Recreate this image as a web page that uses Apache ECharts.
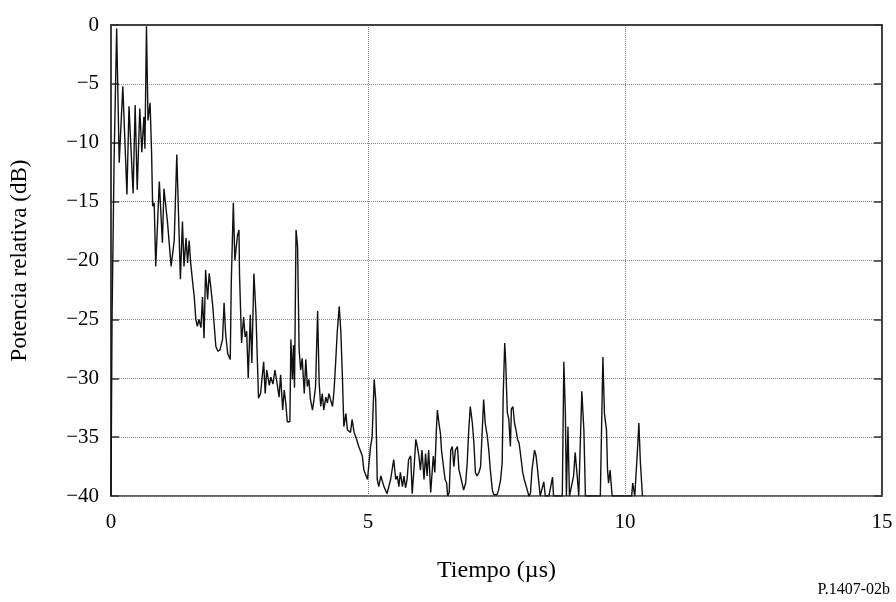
<!DOCTYPE html>
<html>
<head>
<meta charset="utf-8">
<script src="https://cdn.jsdelivr.net/npm/echarts@6/dist/echarts.min.js"></script>
<style>
html,body{margin:0;padding:0;background:#fff;}
#chart{width:896px;height:602px;}
</style>
</head>
<body>
<div id="chart"></div>
<script>
// Tiempo (µs)
var tiempo = [
0,0.02,0.06,0.11,0.16,0.23,0.31,0.35,0.43,0.47,0.51,0.56,0.60,0.64,0.66,0.69,0.72,0.76,0.79,0.81,0.84,0.87,
0.94,1.00,1.03,1.10,1.17,1.23,1.28,1.35,1.39,1.42,1.46,1.49,1.52,1.55,1.59,1.62,1.65,1.68,1.71,1.75,1.78,1.81,1.84,1.88,1.91,1.94,1.98,2.01,2.04,2.08,2.12,2.17,2.20,2.23,2.27,2.32,2.34,2.38,2.41,2.46,2.49,2.50,2.54,2.58,2.61,2.64,2.67,2.71,2.74,2.78,2.82,2.87,
2.91,2.97,3.00,3.03,3.08,3.11,3.15,3.19,3.24,3.27,3.30,3.34,3.37,3.40,3.43,3.48,3.50,3.53,3.55,3.57,3.60,3.63,3.66,3.69,3.72,3.76,3.79,3.82,3.85,3.88,3.92,3.95,3.98,4.02,4.05,4.08,4.11,4.14,4.18,4.21,4.24,4.27,4.31,4.34,4.37,4.40,4.44,4.47,4.50,4.53,4.57,4.60,4.66,4.69,4.73,4.78,4.82,4.89,4.92,4.99,5.02,5.05,5.08,5.12,5.15,5.18,5.21,5.25,5.31,5.37,5.44,5.50,5.54,5.57,5.60,5.63,5.67,5.70,5.73,5.76,5.79,5.83,5.86,5.89,5.93,5.96,5.99,
6.02,6.05,6.09,6.12,6.15,6.18,6.22,6.27,6.30,6.33,6.35,6.38,6.41,6.43,6.46,6.50,6.53,6.55,6.58,6.61,6.64,6.67,6.70,6.74,6.77,6.80,6.83,6.86,6.90,6.93,6.96,6.99,7.03,7.06,7.09,7.12,7.16,7.19,7.22,7.25,7.28,7.32,7.35,7.38,7.42,7.45,7.51,7.54,7.58,7.61,7.63,7.66,7.68,7.71,7.74,7.77,7.79,7.82,7.85,7.88,7.91,7.94,7.98,8.01,8.04,8.08,8.13,8.16,8.19,8.24,8.27,8.30,8.35,8.42,8.45,8.52,8.59,8.61,8.78,8.81,8.84,8.86,8.89,8.92,9.00,9.03,9.07,9.10,9.16,9.20,9.23,9.52,9.57,9.60,9.64,9.66,9.68,9.71,9.75,10.13,10.15,10.19,10.24,10.27,10.30,10.34
];
// Potencia relativa (dB)
var potencia = [
-40,-25,-11.5,-0.3,-11.7,-5.2,-14.4,-6.9,-14.3,-6.8,-14.0,-7.1,-10.8,-7.8,-10.5,-0.1,-8.1,-6.6,-10.9,-15.4,-15.1,-20.5,
-13.3,-18.5,-13.9,-16.8,-20.5,-18.3,-11.0,-21.6,-16.7,-20.5,-18.1,-20.2,-18.3,-20.2,-21.9,-23.1,-25.0,-25.6,-25.0,-25.7,-23.1,-26.6,-20.8,-23.3,-21.1,-22.2,-23.9,-25.6,-27.3,-27.7,-27.6,-26.7,-23.6,-26.2,-27.9,-28.4,-21.9,-15.1,-20.0,-17.9,-17.4,-21.1,-27.0,-24.8,-26.5,-26.0,-30.0,-24.6,-28.7,-21.1,-24.5,-31.7,
-31.3,-28.6,-31.3,-29.3,-30.6,-29.9,-30.5,-29.3,-30.7,-31.6,-29.7,-32.7,-31.0,-32.1,-33.7,-33.7,-26.7,-30.1,-27.2,-30.8,-17.4,-18.8,-27.6,-29.3,-28.3,-31.3,-28.4,-30.7,-30.1,-31.8,-32.7,-31.8,-30.7,-24.3,-30.4,-32.4,-31.3,-32.7,-31.6,-32.1,-31.3,-31.8,-32.4,-31.0,-28.7,-26.2,-23.9,-25.9,-29.6,-34.1,-33.0,-34.4,-34.6,-33.5,-34.6,-35.2,-35.8,-36.6,-37.8,-38.6,-38.6,-35.8,-35.0,-30.1,-31.8,-38.6,-39.2,-38.3,-39.2,-39.8,-38.6,-36.9,-38.6,-38.3,-39.2,-38.0,-39.2,-38.3,-39.3,-38.6,-36.9,-36.6,-39.8,-38.0,-35.2,-35.8,-36.6,
-37.8,-36.1,-38.6,-36.4,-38.3,-36.1,-39.7,-36.6,-38.0,-34.4,-32.7,-33.8,-34.7,-36.1,-37.2,-38.6,-38.9,-40,-39.7,-36.1,-35.8,-37.5,-36.1,-35.8,-37.8,-38.3,-38.9,-39.5,-38.9,-37.2,-34.4,-32.4,-33.8,-35.5,-38.0,-38.3,-38.0,-37.5,-34.7,-31.8,-33.8,-34.9,-36.1,-37.8,-39.5,-39.9,-39.9,-39.5,-38.6,-37.2,-31.5,-27.0,-28.7,-32.9,-33.5,-35.8,-32.6,-32.4,-33.8,-34.4,-35.2,-35.5,-36.9,-38.0,-38.6,-39.2,-40,-39.8,-37.8,-36.1,-36.6,-37.8,-40,-38.8,-40,-40,-38.4,-40,-40,-28.6,-33.0,-40,-34.1,-40,-38.3,-36.3,-38.3,-40,-31.1,-34.4,-40,-40,-28.2,-33.0,-34.4,-37.8,-38.9,-37.8,-40,-40,-38.9,-40,-36.3,-33.8,-37.2,-40
];
var xTicks = [0, 5, 10, 15];
var yTicks = [0, -5, -10, -15, -20, -25, -30, -35, -40];

var pts = tiempo.map(function (t, i) { return [t, potencia[i]]; });
var serif = 'Liberation Serif';
var chart = echarts.init(document.getElementById('chart'), null, {renderer: 'canvas'});
var minusFmt = function (v) { return String(v).replace('-', '\u2212'); };
chart.setOption({
  animation: false,
  backgroundColor: '#fff',
  grid: {left: 110, right: 14, top: 25, bottom: 106, show: true, borderColor: '#333', borderWidth: 1.5, backgroundColor: 'transparent'},
  xAxis: {
    type: 'value', min: xTicks[0], max: xTicks[xTicks.length - 1], interval: 5,
    name: 'Tiempo (\u00b5s)', nameLocation: 'middle', nameGap: 63,
    nameTextStyle: {fontFamily: serif, fontSize: 24, color: '#000'},
    axisLine: {show: true, lineStyle: {color: '#333', width: 1.5}},
    axisTick: {show: false},
    axisLabel: {fontFamily: serif, fontSize: 21, color: '#000', margin: 16},
    splitLine: {show: true, lineStyle: {type: 'dotted', color: '#888', width: 1}}
  },
  yAxis: [{
    type: 'value', min: yTicks[yTicks.length - 1], max: yTicks[0], interval: 5,
    name: 'Potencia relativa (dB)', nameLocation: 'middle', nameGap: 80,
    nameTextStyle: {fontFamily: serif, fontSize: 23, color: '#000'},
    axisLine: {show: true, lineStyle: {color: '#333', width: 1.5}},
    axisTick: {show: true, inside: true, length: 8, lineStyle: {color: '#333', width: 1.5}},
    axisLabel: {fontFamily: serif, fontSize: 21, color: '#000', margin: 12, formatter: minusFmt},
    splitLine: {show: true, lineStyle: {type: 'dotted', color: '#888', width: 1}}
  }, {
    type: 'value', position: 'right', min: -40, max: 0, interval: 5,
    axisLine: {show: true, lineStyle: {color: '#333', width: 1.5}},
    axisTick: {show: true, inside: true, length: 8, lineStyle: {color: '#333', width: 1.5}},
    axisLabel: {show: false}, splitLine: {show: false}
  }],
  series: [{
    type: 'line', data: pts, showSymbol: false, symbol: 'none', clip: true,
    lineStyle: {color: '#111', width: 1.4}
  }],
  graphic: [{
    type: 'text', right: 6, bottom: 4,
    style: {text: 'P.1407-02b', font: '16px "Liberation Serif"', fill: '#000'}
  }]
});
</script>
</body>
</html>
